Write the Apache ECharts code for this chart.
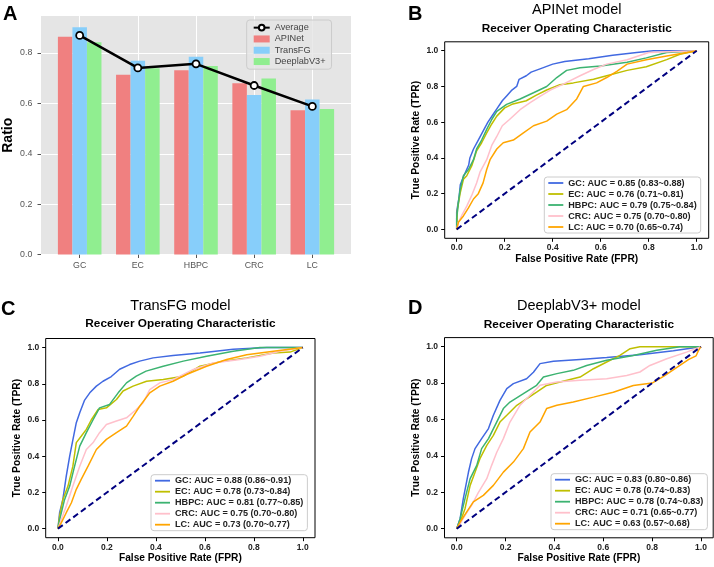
<!DOCTYPE html>
<html><head><meta charset="utf-8">
<script src="https://cdn.jsdelivr.net/npm/echarts@6/dist/echarts.min.js"></script>
<style>html,body{margin:0;padding:0;background:#fff}#c{width:714px;height:567px}</style>
</head><body><div id="c"></div>
<script>
// ---------- Panel A data ----------
const categories = ['GC', 'EC', 'HBPC', 'CRC', 'LC'];
const apinetRatio = [0.865, 0.714, 0.732, 0.680, 0.573];
const transfgRatio = [0.902, 0.769, 0.785, 0.633, 0.615];
const deeplabRatio = [0.843, 0.740, 0.748, 0.699, 0.578];
const averageRatio = [0.870, 0.741, 0.757, 0.671, 0.588];
const ratioTicks = [0, 0.2, 0.4, 0.6, 0.8];
const categoryTicks = [0, 1, 2, 3, 4];
const rocTicks = [0, 0.2, 0.4, 0.6, 0.8, 1.0];

// ---------- ROC legend labels ----------
const labelsB = ['GC: AUC = 0.85 (0.83~0.88)', 'EC: AUC = 0.76 (0.71~0.81)', 'HBPC: AUC = 0.79 (0.75~0.84)', 'CRC: AUC = 0.75 (0.70~0.80)', 'LC: AUC = 0.70 (0.65~0.74)'];
const labelsC = ['GC: AUC = 0.88 (0.86~0.91)', 'EC: AUC = 0.78 (0.73~0.84)', 'HBPC: AUC = 0.81 (0.77~0.85)', 'CRC: AUC = 0.75 (0.70~0.80)', 'LC: AUC = 0.73 (0.70~0.77)'];
const labelsD = ['GC: AUC = 0.83 (0.80~0.86)', 'EC: AUC = 0.78 (0.74~0.83)', 'HBPC: AUC = 0.78 (0.74~0.83)', 'CRC: AUC = 0.71 (0.65~0.77)', 'LC: AUC = 0.63 (0.57~0.68)'];

// ---------- ROC curves: [FPR, TPR] ----------
const bGC = [[0,0],[0,0.1],[0.01,0.18],[0.015,0.25],[0.03,0.3],[0.05,0.36],[0.055,0.4],[0.07,0.45],[0.09,0.5],[0.11,0.55],[0.13,0.6],[0.15,0.64],[0.17,0.68],[0.19,0.72],[0.21,0.75],[0.23,0.78],[0.25,0.8],[0.26,0.84],[0.29,0.86],[0.31,0.88],[0.35,0.9],[0.4,0.925],[0.45,0.94],[0.55,0.955],[0.65,0.975],[0.75,0.99],[0.82,1.0],[1,1]];
const bEC = [[0,0],[0.003,0.11],[0.014,0.2],[0.028,0.28],[0.042,0.3],[0.0625,0.355],[0.083,0.44],[0.104,0.485],[0.125,0.54],[0.146,0.59],[0.167,0.634],[0.2,0.68],[0.23,0.70],[0.29,0.72],[0.33,0.75],[0.375,0.78],[0.43,0.81],[0.486,0.82],[0.57,0.84],[0.625,0.86],[0.71,0.89],[0.79,0.91],[0.875,0.95],[0.93,0.98],[1,1]];
const bHBPC = [[0,0],[0,0.065],[0.007,0.15],[0.014,0.22],[0.028,0.3],[0.049,0.335],[0.07,0.39],[0.083,0.45],[0.104,0.5],[0.125,0.56],[0.146,0.615],[0.167,0.66],[0.208,0.70],[0.264,0.73],[0.32,0.765],[0.375,0.80],[0.417,0.85],[0.458,0.89],[0.514,0.905],[0.6,0.915],[0.71,0.935],[0.79,0.96],[0.875,0.99],[1,1]];
const bCRC = [[0,0],[0.007,0.04],[0.02,0.075],[0.042,0.13],[0.0625,0.19],[0.083,0.26],[0.097,0.32],[0.125,0.39],[0.146,0.47],[0.167,0.52],[0.19,0.58],[0.22,0.615],[0.264,0.67],[0.306,0.71],[0.347,0.745],[0.39,0.78],[0.44,0.81],[0.514,0.86],[0.57,0.895],[0.625,0.925],[0.71,0.95],[0.8,0.99],[1,1]];
const bLC = [[0,0],[0.007,0.04],[0.028,0.075],[0.049,0.12],[0.07,0.17],[0.09,0.2],[0.11,0.26],[0.125,0.335],[0.139,0.39],[0.167,0.45],[0.194,0.485],[0.236,0.5],[0.278,0.54],[0.32,0.58],[0.375,0.606],[0.417,0.645],[0.458,0.67],[0.5,0.73],[0.528,0.80],[0.583,0.82],[0.625,0.85],[0.667,0.885],[0.71,0.925],[0.79,0.95],[0.875,0.97],[0.96,0.99],[1,1]];

const cGC = [[0,0],[0.007,0.09],[0.02,0.16],[0.034,0.29],[0.048,0.4],[0.061,0.49],[0.075,0.585],[0.089,0.64],[0.109,0.71],[0.13,0.75],[0.157,0.787],[0.184,0.814],[0.218,0.84],[0.252,0.88],[0.293,0.906],[0.334,0.925],[0.389,0.943],[0.47,0.956],[0.58,0.97],[0.716,0.99],[0.853,1.0],[1,1]];
const cEC = [[0,0],[0.007,0.07],[0.02,0.16],[0.041,0.235],[0.061,0.345],[0.075,0.475],[0.095,0.51],[0.116,0.548],[0.136,0.6],[0.164,0.658],[0.198,0.667],[0.239,0.713],[0.266,0.76],[0.307,0.787],[0.362,0.814],[0.43,0.823],[0.512,0.842],[0.58,0.897],[0.675,0.925],[0.771,0.943],[0.88,0.97],[0.948,0.975],[1,1]];
const cHBPC = [[0,0],[0.007,0.05],[0.027,0.16],[0.048,0.235],[0.068,0.345],[0.089,0.456],[0.116,0.53],[0.143,0.6],[0.17,0.667],[0.211,0.686],[0.246,0.75],[0.28,0.805],[0.32,0.842],[0.36,0.87],[0.43,0.897],[0.512,0.925],[0.607,0.952],[0.716,0.98],[0.825,1.0],[1,1]];
const cCRC = [[0,0],[0.014,0.05],[0.034,0.125],[0.061,0.235],[0.089,0.345],[0.116,0.437],[0.143,0.474],[0.17,0.53],[0.198,0.575],[0.239,0.594],[0.28,0.612],[0.32,0.658],[0.348,0.695],[0.375,0.768],[0.416,0.805],[0.47,0.823],[0.553,0.879],[0.634,0.915],[0.743,0.934],[0.825,0.952],[0.907,0.98],[1,1]];
const cLC = [[0,0],[0.014,0.033],[0.034,0.088],[0.055,0.143],[0.075,0.217],[0.095,0.272],[0.123,0.345],[0.157,0.437],[0.198,0.493],[0.239,0.53],[0.28,0.566],[0.307,0.62],[0.334,0.676],[0.375,0.75],[0.416,0.787],[0.47,0.814],[0.525,0.851],[0.607,0.897],[0.689,0.934],[0.771,0.96],[0.88,0.98],[1,1]];

const dGC = [[0,0],[0.014,0.055],[0.027,0.165],[0.048,0.31],[0.061,0.385],[0.075,0.44],[0.102,0.495],[0.13,0.55],[0.15,0.623],[0.177,0.705],[0.205,0.77],[0.232,0.797],[0.286,0.824],[0.314,0.86],[0.341,0.907],[0.396,0.92],[0.505,0.93],[0.614,0.94],[0.75,0.956],[0.887,0.978],[1,1]];
const dEC = [[0,0],[0.014,0.037],[0.034,0.11],[0.055,0.238],[0.075,0.31],[0.095,0.385],[0.123,0.458],[0.15,0.513],[0.177,0.586],[0.205,0.623],[0.246,0.678],[0.286,0.714],[0.327,0.75],[0.368,0.787],[0.423,0.806],[0.505,0.833],[0.56,0.879],[0.614,0.916],[0.668,0.952],[0.71,0.989],[0.75,1.0],[1,1]];
const dHBPC = [[0,0],[0.014,0.055],[0.034,0.165],[0.055,0.275],[0.082,0.348],[0.102,0.44],[0.13,0.495],[0.157,0.568],[0.191,0.66],[0.218,0.696],[0.273,0.742],[0.327,0.788],[0.355,0.833],[0.41,0.852],[0.477,0.87],[0.532,0.897],[0.614,0.925],[0.723,0.952],[0.819,0.98],[0.914,1.0],[1,1]];
const dCRC = [[0,0],[0.014,0.027],[0.034,0.073],[0.061,0.128],[0.089,0.2],[0.123,0.275],[0.143,0.348],[0.164,0.42],[0.191,0.495],[0.218,0.586],[0.259,0.678],[0.3,0.733],[0.341,0.788],[0.41,0.806],[0.505,0.815],[0.614,0.824],[0.696,0.842],[0.75,0.861],[0.791,0.897],[0.86,0.934],[0.941,0.97],[1,1]];
const dLC = [[0,0],[0.014,0.037],[0.041,0.092],[0.068,0.147],[0.109,0.183],[0.15,0.238],[0.191,0.311],[0.232,0.366],[0.273,0.44],[0.3,0.531],[0.341,0.586],[0.368,0.66],[0.41,0.678],[0.477,0.696],[0.56,0.723],[0.641,0.75],[0.723,0.787],[0.8,0.8],[0.85,0.84],[0.9,0.885],[0.95,0.93],[0.98,0.95],[0.99,0.98],[1,1]];

const diagonal = [[0,0],[1,1]];
const rocColors = ['#4169e1', '#bfbf00', '#3cb371', '#ffc0cb', '#ffa500'];

// ---------- build option ----------
const FONT = 'Liberation Sans, Arial, Helvetica, sans-serif';
const chart = echarts.init(document.getElementById('c'), null, {renderer: 'canvas'});

const grids = [
  {left: 41, top: 16, width: 310, height: 238.5, show: true, backgroundColor: '#e5e5e5', borderWidth: 0, outerBoundsMode: 'none'},
  {left: 444.7, top: 41.8, width: 264, height: 196.5, show: true, backgroundColor: '#fff', borderColor: '#000', borderWidth: 1, outerBoundsMode: 'none'},
  {left: 45.7, top: 338.5, width: 269.3, height: 199.2, show: true, backgroundColor: '#fff', borderColor: '#000', borderWidth: 1, outerBoundsMode: 'none'},
  {left: 444.5, top: 337.6, width: 268.7, height: 200.2, show: true, backgroundColor: '#fff', borderColor: '#000', borderWidth: 1, outerBoundsMode: 'none'}
];

const xAxes = [{
  gridIndex: 0, type: 'value', min: -0.665, max: 4.665,
  axisLine: {show: false, onZero: false},
  axisTick: {show: true, customValues: categoryTicks, length: 3.5, lineStyle: {color: '#555'}},
  axisLabel: {customValues: categoryTicks, formatter: v => categories[Math.round(v)], fontSize: 8.8, color: '#555', margin: 6.5, fontFamily: FONT},
  splitLine: {show: true, lineStyle: {color: '#fff', width: 1}}
}];
const yAxes = [{
  gridIndex: 0, type: 'value', min: 0, max: 0.947,
  axisLine: {show: false, onZero: false},
  axisTick: {show: true, customValues: ratioTicks, length: 3.5, lineStyle: {color: '#555'}},
  axisLabel: {customValues: ratioTicks, formatter: v => v.toFixed(1), fontSize: 8.8, color: '#555', margin: 8.7, fontFamily: FONT},
  splitLine: {show: true, lineStyle: {color: '#fff', width: 1}},
  name: 'Ratio', nameLocation: 'middle', nameGap: 25.7,
  nameTextStyle: {fontSize: 14, fontWeight: 'bold', color: '#000', fontFamily: FONT}
}];
for (let k = 1; k <= 3; k++) {
  xAxes.push({
    gridIndex: k, type: 'value', min: -0.05, max: 1.05,
    axisLine: {show: false, onZero: false},
    axisTick: {show: true, customValues: rocTicks, length: 3.5, lineStyle: {color: '#000', width: 1}},
    axisLabel: {customValues: rocTicks, formatter: v => v.toFixed(1), fontSize: 8.5, fontWeight: 'bold', color: '#222', margin: 5, fontFamily: FONT},
    splitLine: {show: false},
    name: 'False Positive Rate (FPR)', nameLocation: 'middle', nameGap: 15.7,
    nameTextStyle: {fontSize: 10.2, fontWeight: 'bold', color: '#000', fontFamily: FONT}
  });
  yAxes.push({
    gridIndex: k, type: 'value', min: -0.05, max: 1.05,
    axisLine: {show: false, onZero: false},
    axisTick: {show: true, customValues: rocTicks, length: 3.5, lineStyle: {color: '#000', width: 1}},
    axisLabel: {customValues: rocTicks, formatter: v => v.toFixed(1), fontSize: 8.5, fontWeight: 'bold', color: '#222', margin: 6.4, fontFamily: FONT},
    splitLine: {show: false},
    name: 'True Positive Rate (TPR)', nameLocation: 'middle', nameGap: 23.5,
    nameTextStyle: {fontSize: 10.2, fontWeight: 'bold', color: '#000', fontFamily: FONT}
  });
}

const series = [];
const barWidth = 14.5;
const barOffsets = [-0.25, 0, 0.25];
const barSets = [['APINet', apinetRatio, '#f08080'], ['TransFG', transfgRatio, '#87cefa'], ['DeeplabV3+', deeplabRatio, '#90ee90']];
barSets.forEach((b, j) => {
  series.push({
    name: b[0], type: 'bar', xAxisIndex: 0, yAxisIndex: 0,
    barWidth: barWidth, barGap: '-100%',
    itemStyle: {color: b[2]},
    data: b[1].map((v, i) => [i + barOffsets[j], v]),
    z: 2
  });
});
series.push({
  name: 'Average', type: 'line', xAxisIndex: 0, yAxisIndex: 0,
  data: averageRatio.map((v, i) => [i, v]),
  symbol: 'circle', symbolSize: 7, showSymbol: true,
  lineStyle: {color: '#000', width: 2.5},
  itemStyle: {color: '#fff', borderColor: '#000', borderWidth: 1.8},
  z: 5
});

const rocPanels = [
  [1, [bGC, bEC, bHBPC, bCRC, bLC], labelsB],
  [2, [cGC, cEC, cHBPC, cCRC, cLC], labelsC],
  [3, [dGC, dEC, dHBPC, dCRC, dLC], labelsD]
];
rocPanels.forEach(p => {
  p[1].forEach((curve, i) => {
    series.push({
      name: p[2][i], type: 'line', xAxisIndex: p[0], yAxisIndex: p[0],
      data: curve, symbol: 'none', showSymbol: false,
      lineStyle: {color: rocColors[i], width: 1.5},
      itemStyle: {color: rocColors[i]},
      z: 3
    });
  });
  series.push({
    name: 'diag' + p[0], type: 'line', xAxisIndex: p[0], yAxisIndex: p[0],
    data: diagonal, symbol: 'none', showSymbol: false,
    lineStyle: {color: '#000080', width: 2, type: [6, 3.5]},
    z: 4
  });
});

const rocLegend = (labels, left, top) => ({
  orient: 'vertical', left: left, top: top,
  data: labels.map(n => ({name: n, icon: 'rect'})), selectedMode: false,
  itemWidth: 15, itemHeight: 1.8, itemGap: 0,
  padding: [0.5, 4, 0.5, 4],
  backgroundColor: 'rgba(255,255,255,0.8)', borderColor: '#ccc', borderWidth: 1, borderRadius: 3,
  textStyle: {fontSize: 9.1, fontWeight: 'bold', color: '#222', lineHeight: 11, fontFamily: FONT}
});

const legends = [
  {
    orient: 'vertical', left: 246.7, top: 20,
    data: [{name: 'Average'}, {name: 'APINet', icon: 'rect'}, {name: 'TransFG', icon: 'rect'}, {name: 'DeeplabV3+', icon: 'rect'}],
    selectedMode: false,
    itemWidth: 16, itemHeight: 7, itemGap: 0,
    padding: [2, 6, 2, 6],
    backgroundColor: 'rgba(229,229,229,0.8)', borderColor: '#ccc', borderWidth: 1, borderRadius: 3,
    textStyle: {fontSize: 9.2, color: '#444', lineHeight: 11.3, fontFamily: FONT}
  },
  rocLegend(labelsB, 544.3, 177),
  rocLegend(labelsC, 151, 474.7),
  rocLegend(labelsD, 551, 473.7)
];

const t = (text, left, top, size, weight, align, lh) => ({
  text: text, left: left, top: top, padding: 0, textAlign: align || 'left',
  textStyle: {fontSize: size, fontWeight: weight, color: '#000', lineHeight: lh, fontFamily: FONT}
});
const titles = [
  t('A', 3, 3, 20, 'bold', 'left', 22),
  t('B', 408, 3, 20, 'bold', 'left', 22),
  t('C', 1, 298.7, 20, 'bold', 'left', 22),
  t('D', 408, 297, 20, 'bold', 'left', 22),
  t('APINet model', 576.7, 1.5, 14.5, 'normal', 'center', 17),
  t('Receiver Operating Characteristic', 576.7, 22, 11.8, 'bold', 'center', 13),
  t('TransFG model', 180.4, 297, 14.5, 'normal', 'center', 17),
  t('Receiver Operating Characteristic', 180.4, 317.5, 11.8, 'bold', 'center', 13),
  t('DeeplabV3+ model', 578.9, 297, 14.5, 'normal', 'center', 17),
  t('Receiver Operating Characteristic', 578.9, 318, 11.8, 'bold', 'center', 13)
];

chart.setOption({
  animation: false,
  backgroundColor: '#fff',
  textStyle: {fontFamily: FONT},
  title: titles,
  legend: legends,
  grid: grids,
  xAxis: xAxes,
  yAxis: yAxes,
  series: series
});
</script>
</body></html>
